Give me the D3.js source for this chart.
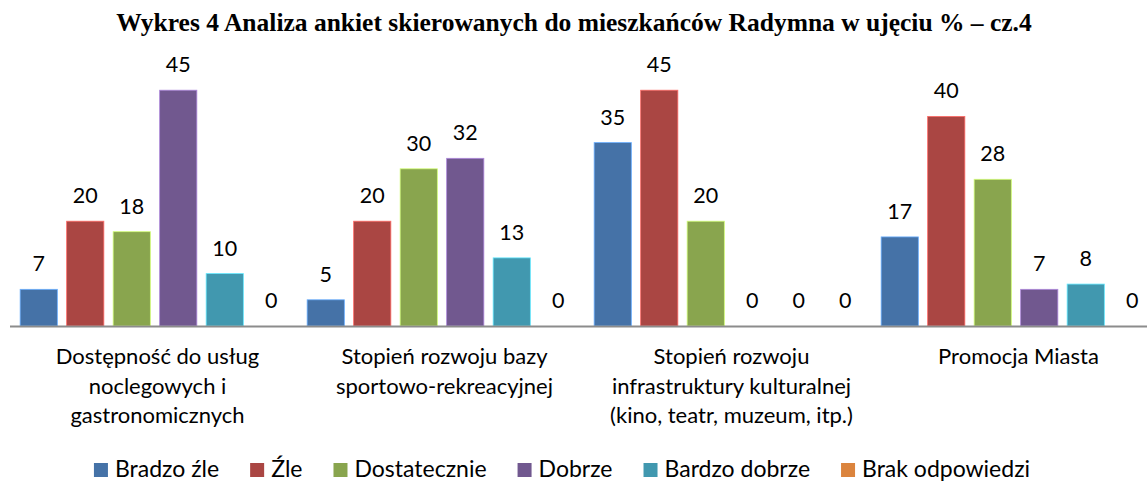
<!DOCTYPE html>
<html>
<head>
<meta charset="utf-8">
<script src="https://cdn.jsdelivr.net/npm/d3@7"></script>
<style>
  body { margin: 0; background: #fff; }
</style>
</head>
<body>
<div id="main"></div>
<script>
// data
var title = "Wykres 4 Analiza ankiet skierowanych do mieszkańców Radymna w ujęciu % – cz.4";
var categories = [
  ["Dostępność do usług", "noclegowych i", "gastronomicznych"],
  ["Stopień rozwoju bazy", "sportowo-rekreacyjnej"],
  ["Stopień rozwoju", "infrastruktury kulturalnej", "(kino, teatr, muzeum, itp.)"],
  ["Promocja Miasta"]
];
var seriesNames = ["Bradzo źle", "Źle", "Dostatecznie", "Dobrze", "Bardzo dobrze", "Brak odpowiedzi"];
var bradzoZle = [7, 5, 35, 17];
var zle = [20, 20, 45, 40];
var dostatecznie = [18, 30, 20, 28];
var dobrze = [45, 32, 0, 7];
var bardzoDobrze = [10, 13, 0, 8];
var brakOdpowiedzi = [0, 0, 0, 0];
var colors = ["#4572A7", "#AA4643", "#89A54E", "#71588F", "#4198AF", "#DB843D"];

var allSeries = [bradzoZle, zle, dostatecznie, dobrze, bardzoDobrze, brakOdpowiedzi];

var W = 1147, H = 481;
var margin = { top: 64, right: -12, bottom: 155, left: 11 },
  width = W - margin.left - margin.right,
  height = H - margin.top - margin.bottom;

var svg = d3.select("#main")
  .append("svg")
  .attr("width", W)
  .attr("height", H);

svg.append("text")
  .attr("x", 574)
  .attr("y", 31)
  .attr("text-anchor", "middle")
  .style("font-family", "Liberation Serif")
  .style("font-weight", "bold")
  .style("font-size", "25.5px")
  .text(title);

var g = svg.append("g")
  .attr("transform", "translate(" + margin.left + "," + margin.top + ")");

var x0 = d3.scaleBand()
  .domain(d3.range(categories.length))
  .range([0, width]);

// bars inside one category
var x1 = d3.scaleBand()
  .domain(d3.range(seriesNames.length))
  .range([4.5, 283.5])
  .paddingInner(0.2)
  .paddingOuter(0.1);

var y = d3.scaleLinear()
  .domain([0, 50])
  .range([height, 0]);

categories.forEach(function (c, ci) {
  var grp = g.append("g").attr("transform", "translate(" + x0(ci) + ",0)");
  allSeries.forEach(function (s, si) {
    var v = s[ci];
    if (v > 0) {
      grp.append("rect")
        .attr("x", x1(si))
        .attr("y", y(v))
        .attr("width", x1.bandwidth())
        .attr("height", height - y(v))
        .attr("fill", colors[si])
        .attr("stroke", d3.color(colors[si]).brighter(1.2))
        .attr("stroke-width", 0.8);
    }
    grp.append("text")
      .attr("x", x1(si) + x1.bandwidth() / 2)
      .attr("y", y(v) - 18)
      .attr("text-anchor", "middle")
      .style("font-family", "Lato")
      .style("font-size", "21.5px")
      .style("fill", "#000")
      .text(v);
  });
});

// x axis line
g.append("line")
  .attr("x1", -1)
  .attr("x2", width)
  .attr("y1", height + 0.5)
  .attr("y2", height + 0.5)
  .attr("stroke", "#8c8c8c")
  .attr("stroke-width", 2);

// category labels
categories.forEach(function (lines, ci) {
  var t = g.append("text")
    .attr("text-anchor", "middle")
    .style("font-family", "Lato")
    .style("font-size", "22px")
    .style("fill", "#000");
  lines.forEach(function (ln, li) {
    t.append("tspan")
      .attr("x", x0(ci) + x0.bandwidth() / 2 + 3)
      .attr("y", height + 38 + li * 29.5)
      .text(ln);
  });
});

// legend
var legend = svg.append("g");
var lx = 0;
seriesNames.forEach(function (name, i) {
  var item = legend.append("g").attr("transform", "translate(" + lx + ",0)");
  item.append("rect")
    .attr("x", 0)
    .attr("y", -14)
    .attr("width", 14)
    .attr("height", 14)
    .attr("fill", colors[i]);
  var t = item.append("text")
    .attr("x", 21)
    .attr("y", 0)
    .style("font-family", "Lato")
    .style("font-size", "23px")
    .text(name);
  lx += 21 + t.node().getComputedTextLength() + 31;
});
var legendW = lx - 31;
legend.attr("transform", "translate(" + (562 - legendW / 2) + ",477)");
</script>
</body>
</html>
